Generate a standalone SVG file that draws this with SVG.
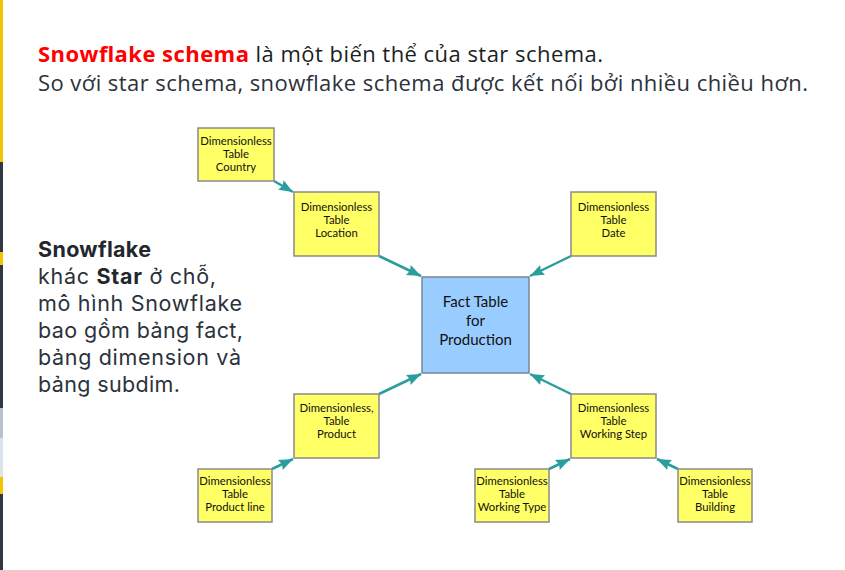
<svg xmlns="http://www.w3.org/2000/svg" width="845" height="570" viewBox="0 0 845 570">
<style>
.dim{fill:#ffff66;stroke:#8a8a8a;stroke-width:1.5}
.fact{fill:#99ccff;stroke:#7a8596;stroke-width:1.5}
.nt{font-family:Lato,"Liberation Sans",sans-serif;font-size:11.3px;fill:#111;text-anchor:middle}
.ft{font-family:Lato,"Liberation Sans",sans-serif;font-size:15px;fill:#111;text-anchor:middle}
.con line{stroke:#2a9d9d;stroke-width:2.5;marker-end:url(#ah)}
.t{font-family:"Open Sans","Noto Sans",sans-serif;font-size:22px}
.d{font-family:Inter,"Open Sans","Noto Sans",sans-serif;font-size:21.5px;fill:#2b323b}
</style>
<defs>
<marker id="ah" markerUnits="userSpaceOnUse" markerWidth="15" markerHeight="12" refX="14" refY="5.5" orient="auto">
<polygon points="0,0 14,5.5 0,11 2,5.5" fill="#2a9d9d"/>
</marker>
</defs>
<rect width="845" height="570" fill="#ffffff"/>
<g id="sidebar">
<rect x="0" y="0" width="3" height="162" fill="#f2c500"/>
<rect x="0" y="162" width="3" height="90" fill="#2f3644"/>
<rect x="0" y="252" width="3" height="13" fill="#f2c500"/>
<rect x="0" y="265" width="3" height="143" fill="#2f3644"/>
<rect x="0" y="408" width="3" height="30" fill="#b9c1ca"/>
<rect x="0" y="438" width="3" height="39" fill="#dde3ea"/>
<rect x="0" y="477" width="3" height="17" fill="#f2c500"/>
<rect x="0" y="494" width="3" height="76" fill="#2f3644"/>
</g>
<g id="title">
<text class="t" x="38" y="62" textLength="565" lengthAdjust="spacing"><tspan fill="#ff0000" font-weight="bold">Snowflake schema</tspan><tspan fill="#1b1f24"> là một biến thể của star schema.</tspan></text>
<text class="t" x="38" y="91" fill="#2b323b" textLength="770" lengthAdjust="spacing">So với star schema, snowflake schema được kết nối bởi nhiều chiều hơn.</text>
</g>
<g id="description" class="d">
<text x="38" y="257" font-weight="bold" fill="#22272e" textLength="113" lengthAdjust="spacing">Snowflake</text>
<text x="38" y="284" textLength="178" lengthAdjust="spacing">khác <tspan font-weight="bold" fill="#22272e">Star</tspan> ở chỗ,</text>
<text x="38" y="311" textLength="204" lengthAdjust="spacing">mô hình Snowflake</text>
<text x="38" y="338" textLength="205" lengthAdjust="spacing">bao gồm bảng fact,</text>
<text x="38" y="365" textLength="203" lengthAdjust="spacing">bảng dimension và</text>
<text x="38" y="392" textLength="142" lengthAdjust="spacing">bảng subdim.</text>
</g>
<g id="connectors" class="con">
<line x1="274" y1="181" x2="293" y2="192"/>
<line x1="379" y1="256" x2="421" y2="276"/>
<line x1="571" y1="256" x2="530" y2="276"/>
<line x1="379" y1="394" x2="421" y2="374"/>
<line x1="571" y1="394" x2="530" y2="374"/>
<line x1="272" y1="469" x2="293" y2="459"/>
<line x1="549" y1="469" x2="570" y2="459"/>
<line x1="678" y1="469" x2="657" y2="459"/>
</g>
<g id="fact">
<rect class="fact" x="422" y="277" width="107" height="96"/>
<text class="ft" x="475.5" y="307">Fact Table</text>
<text class="ft" x="475.5" y="326">for</text>
<text class="ft" x="475.5" y="345">Production</text>
</g>
<g id="country">
<rect class="dim" x="198" y="128" width="76" height="53"/>
<text class="nt" x="236" y="145">Dimensionless</text>
<text class="nt" x="236" y="158">Table</text>
<text class="nt" x="236" y="171">Country</text>
</g>
<g id="location">
<rect class="dim" x="294" y="192" width="85" height="64"/>
<text class="nt" x="336.5" y="211">Dimensionless</text>
<text class="nt" x="336.5" y="224">Table</text>
<text class="nt" x="336.5" y="237">Location</text>
</g>
<g id="date">
<rect class="dim" x="571" y="192" width="85" height="64"/>
<text class="nt" x="613.5" y="211">Dimensionless</text>
<text class="nt" x="613.5" y="224">Table</text>
<text class="nt" x="613.5" y="237">Date</text>
</g>
<g id="product">
<rect class="dim" x="294" y="394" width="85" height="64"/>
<text class="nt" x="336.5" y="412">Dimensionless,</text>
<text class="nt" x="336.5" y="425">Table</text>
<text class="nt" x="336.5" y="438">Product</text>
</g>
<g id="working-step">
<rect class="dim" x="571" y="394" width="85" height="64"/>
<text class="nt" x="613.5" y="412">Dimensionless</text>
<text class="nt" x="613.5" y="425">Table</text>
<text class="nt" x="613.5" y="438">Working Step</text>
</g>
<g id="product-line">
<rect class="dim" x="198" y="469" width="74" height="53"/>
<text class="nt" x="235" y="485">Dimensionless</text>
<text class="nt" x="235" y="498">Table</text>
<text class="nt" x="235" y="511">Product line</text>
</g>
<g id="working-type">
<rect class="dim" x="475" y="469" width="74" height="53"/>
<text class="nt" x="512" y="485">Dimensionless</text>
<text class="nt" x="512" y="498">Table</text>
<text class="nt" x="512" y="511">Working Type</text>
</g>
<g id="building">
<rect class="dim" x="678" y="469" width="74" height="53"/>
<text class="nt" x="715" y="485">Dimensionless</text>
<text class="nt" x="715" y="498">Table</text>
<text class="nt" x="715" y="511">Building</text>
</g>
</svg>
